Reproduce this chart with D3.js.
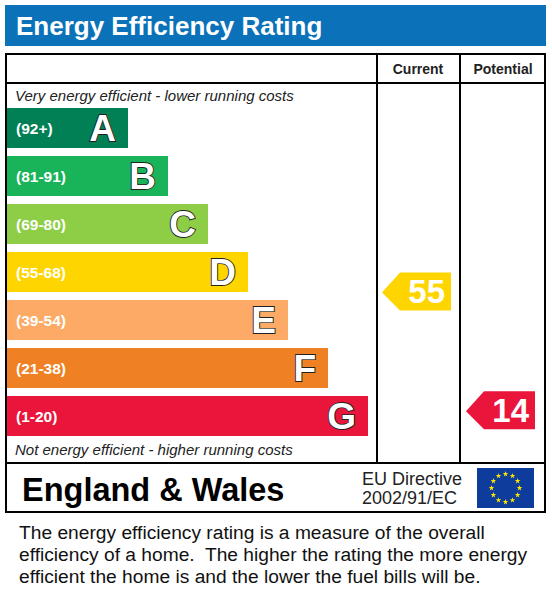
<!DOCTYPE html>
<html><head><meta charset="utf-8">
<script src="https://cdn.jsdelivr.net/npm/d3@7"></script>
<style>body{margin:0;background:#fff}text{white-space:pre}</style>
</head><body><svg></svg>
<script>
var bands = ['A','B','C','D','E','F','G'];
var ranges = ['(92+)','(81-91)','(69-80)','(55-68)','(39-54)','(21-38)','(1-20)'];
var colors = ['#008054','#19b459','#8dce46','#ffd500','#fcaa65','#ef8023','#e9153b'];
var current = 55, potential = 14;
var descText = ['The energy efficiency rating is a measure of the overall',
  'efficiency of a home.  The higher the rating the more energy',
  'efficient the home is and the lower the fuel bills will be.'];

function bandOf(v) {
  var lows = [92,81,69,55,39,21,1];
  for (var i = 0; i < lows.length; i++) if (v >= lows[i]) return i;
  return 6;
}

var svg = d3.select('svg').attr('width', 552).attr('height', 613);
var font = 'Arial, Liberation Sans, sans-serif';

svg.append('rect').attr('x', 5).attr('y', 5).attr('width', 541).attr('height', 41).attr('fill', '#0b72b9');
svg.append('text').attr('x', 16).attr('y', 35).attr('fill', '#fff').attr('font-family', font)
  .attr('font-weight', 'bold').attr('font-size', 26).text('Energy Efficiency Rating');

var g = svg.append('g').attr('stroke', '#000').attr('stroke-width', 2).attr('fill', 'none');
g.append('rect').attr('x', 6).attr('y', 54).attr('width', 539).attr('height', 458);
[[377,54,377,463],[460,54,460,463]].forEach(function (l) {
  g.append('line').attr('x1', l[0]).attr('y1', l[1]).attr('x2', l[2]).attr('y2', l[3]);
});
g.append('line').attr('x1', 6).attr('y1', 83).attr('x2', 545).attr('y2', 83);
g.append('line').attr('x1', 6).attr('y1', 463).attr('x2', 545).attr('y2', 463);

svg.append('text').attr('x', 418).attr('y', 74).attr('text-anchor', 'middle').attr('font-family', font)
  .attr('font-weight', 'bold').attr('font-size', 14).attr('fill', '#222').text('Current');
svg.append('text').attr('x', 503).attr('y', 74).attr('text-anchor', 'middle').attr('font-family', font)
  .attr('font-weight', 'bold').attr('font-size', 14).attr('fill', '#222').text('Potential');

svg.append('text').attr('x', 15).attr('y', 101).attr('font-family', font).attr('font-style', 'italic')
  .attr('font-size', 15).attr('fill', '#222').text('Very energy efficient - lower running costs');
svg.append('text').attr('x', 15).attr('y', 455).attr('font-family', font).attr('font-style', 'italic')
  .attr('font-size', 15).attr('fill', '#222').text('Not energy efficient - higher running costs');

var y = d3.scaleBand().domain(bands).range([108, 436]).paddingInner(8 / 48).paddingOuter(0);
var w = d3.scaleLinear().domain([0, 6]).range([128, 368]);
var yv = d3.scaleLinear().domain([1, 100]).range([448, 161]);

var bar = svg.selectAll('g.bar').data(bands).enter().append('g').attr('class', 'bar');
bar.append('rect').attr('x', 7).attr('y', function (d) { return y(d); })
  .attr('width', function (d, i) { return w(i) - 7; }).attr('height', y.bandwidth())
  .attr('fill', function (d, i) { return colors[i]; });
bar.append('text').attr('x', 16).attr('y', function (d) { return y(d) + y.bandwidth() / 2 + 6; })
  .attr('font-family', font).attr('font-weight', 'bold').attr('font-size', 15.5).attr('fill', '#fff')
  .text(function (d, i) { return ranges[i]; });
bar.append('text').attr('x', function (d, i) { return w(i) - 12; })
  .attr('y', function (d) { return y(d) + y.bandwidth() / 2 + 13; })
  .attr('text-anchor', 'end').attr('font-family', font).attr('font-weight', 'bold').attr('font-size', 37)
  .attr('fill', '#fff').attr('stroke', '#222').attr('stroke-width', 1.8).attr('paint-order', 'stroke')
  .text(function (d) { return d; });

function arrow(v, x0) {
  var i = bandOf(v), h = y.bandwidth(), top = yv(v) - h / 2 + 1, x1 = x0 + 69;
  svg.append('path').attr('d', 'M' + x0 + ',' + (top + h / 2) + 'L' + (x0 + 18) + ',' + top + 'L' + x1 + ',' + top +
      'L' + x1 + ',' + (top + h - 2) + 'L' + (x0 + 18) + ',' + (top + h - 2) + 'Z').attr('fill', colors[i]);
  svg.append('text').attr('x', x1 - 6).attr('y', top + h / 2 + 11).attr('text-anchor', 'end')
    .attr('font-family', font).attr('font-weight', 'bold').attr('font-size', 33).attr('fill', '#fff').text(v);
}
arrow(current, 382);
arrow(potential, 466);

svg.append('text').attr('x', 22).attr('y', 501).attr('font-family', font).attr('font-weight', 'bold')
  .attr('font-size', 32.5).attr('fill', '#000').text('England & Wales');
svg.append('text').attr('x', 362).attr('y', 485).attr('font-family', font).attr('font-size', 18).attr('fill', '#222').text('EU Directive');
svg.append('text').attr('x', 362).attr('y', 504).attr('font-family', font).attr('font-size', 18).attr('fill', '#222').text('2002/91/EC');

svg.append('rect').attr('x', 477).attr('y', 468).attr('width', 57).attr('height', 40).attr('fill', '#0d3c9c');
var stars = d3.range(12).map(function (k) { return k * Math.PI / 6; });
svg.selectAll('path.star').data(stars).enter().append('path').attr('class', 'star')
  .attr('d', d3.symbol(d3.symbolStar, 10))
  .attr('transform', function (a) { return 'translate(' + (505.5 + 14 * Math.sin(a)) + ',' + (488 - 14 * Math.cos(a)) + ')'; })
  .attr('fill', '#ffe600');

svg.selectAll('text.desc').data(descText).enter().append('text').attr('class', 'desc')
  .attr('x', 19).attr('y', function (d, i) { return 539 + i * 22; })
  .attr('font-family', font).attr('font-size', 19.2).attr('fill', '#111').text(function (d) { return d; });
</script></body></html>
